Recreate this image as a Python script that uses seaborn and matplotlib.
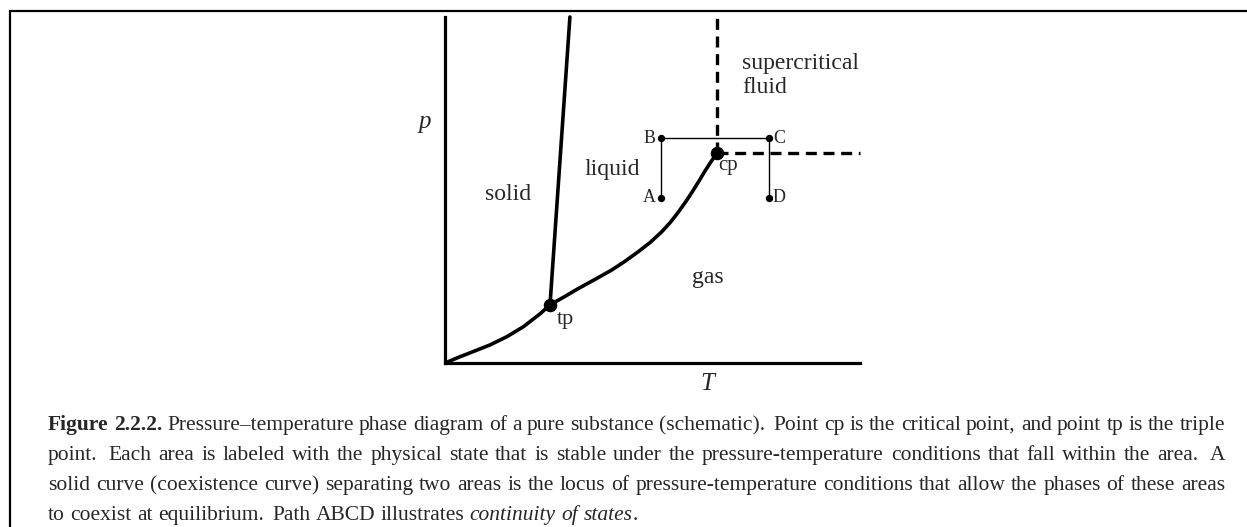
import matplotlib
matplotlib.use("Agg")
import matplotlib.pyplot as plt
import seaborn as sns
from matplotlib.lines import Line2D

# ---- data (schematic units: T and p from 0 to 100) ----
# sublimation curve: origin -> triple point
sub_T = [0.0, 3.6, 6.8, 10.8, 14.9, 18.9, 22.9, 25.3]
sub_p = [0.0, 1.8, 3.3, 5.2, 7.6, 10.5, 14.2, 16.8]
# vaporization curve: triple point -> critical point
vap_T = [25.3, 28.7, 32.1, 36.2, 40.2, 43.5, 46.6, 49.5, 52.2, 54.2, 56.1, 58.0, 59.7, 61.2, 62.6, 64.0, 65.5]
vap_p = [16.8, 19.1, 21.5, 24.2, 26.9, 29.5, 32.2, 34.9, 37.9, 40.5, 43.4, 46.6, 49.7, 52.6, 55.4, 58.0, 60.6]
# fusion line: triple point -> top
fus_T = [25.3, 30.1]
fus_p = [16.8, 100.0]

tp = (25.3, 16.8)
cp = (65.5, 60.6)

# path ABCD
path_labels = ["A", "B", "C", "D"]
path_T = [52.0, 52.0, 78.1, 78.1]
path_p = [47.7, 65.0, 65.0, 47.7]

region_labels = ["solid", "liquid", "gas"]
region_T = [15.2, 40.2, 63.4]
region_p = [48.6, 55.8, 24.6]

caption = [
    [("Figure", "bold"), ("2.2.2.", "bold"),
     "Pressure–temperature phase diagram of a pure substance (schematic).  "
     "Point cp is the critical point, and point tp is the triple"],
    ["point.  Each area is labeled with the physical state that is stable under the "
     "pressure-temperature conditions that fall within the area.  A"],
    ["solid curve (coexistence curve) separating two areas is the locus of "
     "pressure-temperature conditions that allow the phases of these areas"],
    ["to coexist at equilibrium.  Path ABCD illustrates",
     ("continuity", "italic"), ("of", "italic"), ("states", "italic"), (".", "attach")],
]

W, H, DPI = 1247, 527, 100

sns.set_style("white")
plt.rcParams['font.family'] = ['Liberation Serif', 'DejaVu Serif']

fig = plt.figure(figsize=(W / DPI, H / DPI), dpi=DPI)
ax = fig.add_axes([445 / W, 1 - 363 / H, 415 / W, 346 / H])
ax.set_xlim(0, 100)
ax.set_ylim(0, 100)

lw = 2.6
sns.lineplot(x=sub_T, y=sub_p, sort=False, estimator=None, color="black", lw=lw, ax=ax)
sns.lineplot(x=vap_T, y=vap_p, sort=False, estimator=None, color="black", lw=lw, ax=ax)
sns.lineplot(x=fus_T, y=fus_p, sort=False, estimator=None, color="black", lw=lw, ax=ax, clip_on=False)

# supercritical boundaries (dashed)
dash = (0, (3.3, 2.0))
ax.plot([cp[0], cp[0]], [cp[1], 100], color="black", lw=2.4, ls=dash, clip_on=False)
ax.plot([cp[0], 100], [cp[1], cp[1]], color="black", lw=2.4, ls=dash, clip_on=False)

# path ABCD
ax.plot(path_T, path_p, color="black", lw=1.0)
sns.scatterplot(x=path_T, y=path_p, color="black", s=28, linewidth=0, ax=ax, zorder=5)
sns.scatterplot(x=[tp[0], cp[0]], y=[tp[1], cp[1]], color="black", s=95, linewidth=0, ax=ax, zorder=6)

for lab, t, p in zip(path_labels, path_T, path_p):
    if t < 60:
        ax.text(t - 1.3, p, lab, fontsize=13, ha="right", va="center")
    else:
        ax.text(t + 0.9, p, lab, fontsize=13, ha="left", va="center")

for lab, t, p in zip(region_labels, region_T, region_p):
    ax.text(t, p, lab, fontsize=17, ha="center", va="center")
ax.text(71.6, 86.7, "supercritical", fontsize=17, ha="left", va="center")
ax.text(71.6, 79.5, "fluid", fontsize=17, ha="left", va="center")
ax.text(tp[0] + 1.6, tp[1] - 4.3, "tp", fontsize=16, ha="left", va="center")
ax.text(cp[0] + 0.3, cp[1] - 3.5, "cp", fontsize=15, ha="left", va="center")

ax.text(-4.8, 69.7, "p", fontsize=18, style="italic", ha="center", va="center")
ax.text(63.1, -6.2, "T", fontsize=18, style="italic", ha="center", va="center")

ax.set_xticks([])
ax.set_yticks([])
sns.despine(ax=ax)
for s in ("left", "bottom"):
    ax.spines[s].set_linewidth(2.3)
    ax.spines[s].set_color("black")

# frame of the figure (top and left only)
fig.add_artist(Line2D([10 / W, 1], [1 - 10.5 / H, 1 - 10.5 / H], color="black", lw=1.6))
fig.add_artist(Line2D([10 / W, 10 / W], [0, 1 - 10.5 / H], color="black", lw=1.6))

# ---- justified caption ----
fs = 15.5
renderer = fig.canvas.get_renderer()


def tokens_of(line):
    toks = []
    for run in line:
        if isinstance(run, tuple):
            word, kind = run
            toks.append((word, kind, 0.0 if kind == "attach" else 1.0))
        else:
            for w in run.split(" "):
                if w == "":
                    toks.append(("", "space", 0))
                    continue
                toks.append((w, "normal", 1.0))
    # double spaces become wider gaps
    out = []
    extra = 0.0
    for w, kind, g in toks:
        if kind == "space":
            extra += 0.6
            continue
        out.append((w, kind, g + extra if out else 0.0))
        extra = 0.0
    return out


x0, x1 = 48, 1225
for i, line in enumerate(caption):
    toks = tokens_of(line)
    texts, widths = [], []
    for w, kind, g in toks:
        kw = {}
        if kind == "bold":
            kw["fontweight"] = "bold"
        elif kind == "italic":
            kw["fontstyle"] = "italic"
        t = fig.text(0, 0, w, fontsize=fs, ha="left", va="baseline", **kw)
        texts.append(t)
        widths.append(t.get_window_extent(renderer).width)
    gaps = [g for _, _, g in toks]
    if i < len(caption) - 1:
        unit = (x1 - x0 - sum(widths)) / sum(gaps)
    else:
        unit = fs * 0.25 * DPI / 72
    x = x0
    y = 430 + 30 * i
    for t, wdt, g in zip(texts, widths, gaps):
        x += g * unit
        t.set_position((x / W, 1 - y / H))
        x += wdt

fig.savefig("out.png", dpi=DPI)
